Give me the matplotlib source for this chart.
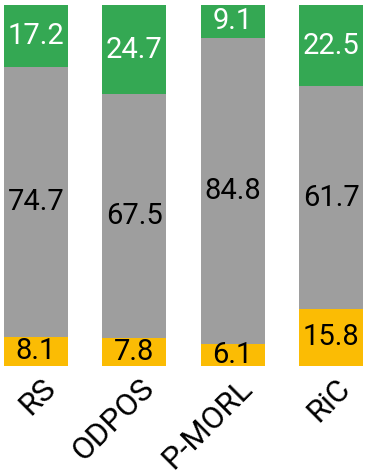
import numpy as np
import matplotlib.transforms as mtransforms
from matplotlib import pyplot as plt

plt.rcParams['font.family'] = ['Roboto', 'DejaVu Sans']

methods = ['RS', 'ODPOS', 'P-MORL', 'RiC']
bottom_vals = [8.1, 7.8, 6.1, 15.8]
middle_vals = [74.7, 67.5, 84.8, 61.7]
top_vals = [17.2, 24.7, 9.1, 22.5]

c_orange = '#FBBC04'
c_gray = '#9E9E9E'
c_green = '#34A853'

fig = plt.figure(figsize=(3.65, 4.75), dpi=100)
ax = fig.add_axes([0, 0.2295, 1, 0.76])

x = np.arange(len(methods))
w = 0.65
b = np.array(bottom_vals)
m = np.array(middle_vals)
t = np.array(top_vals)

ax.bar(x, b, w, color=c_orange)
ax.bar(x, m, w, bottom=b, color=c_gray)
ax.bar(x, t, w, bottom=b + m, color=c_green)

for i in range(len(methods)):
    ax.text(x[i], b[i] / 2, f'{b[i]:.1f}', ha='center', va='center',
            fontsize=21, color='black')
    ax.text(x[i], b[i] + m[i] / 2, f'{m[i]:.1f}', ha='center', va='center',
            fontsize=21, color='black')
    ax.text(x[i], b[i] + m[i] + t[i] / 2, f'{t[i]:.1f}', ha='center',
            va='center', fontsize=21, color='white')

ax.set_xlim(-0.366, 3.345)
ax.set_ylim(0, 100)
ax.set_xticks(x)
ax.set_xticklabels(methods, rotation=45, ha='right', va='center',
                   rotation_mode='anchor', fontsize=22.5)
ax.tick_params(axis='x', length=0, pad=14)
shift = mtransforms.ScaledTranslation(0.15, 0.02, fig.dpi_scale_trans)
for lab in ax.get_xticklabels():
    lab.set_transform(lab.get_transform() + shift)
ax.set_yticks([])
for s in ax.spines.values():
    s.set_visible(False)

fig.savefig('out.png', dpi=100)
